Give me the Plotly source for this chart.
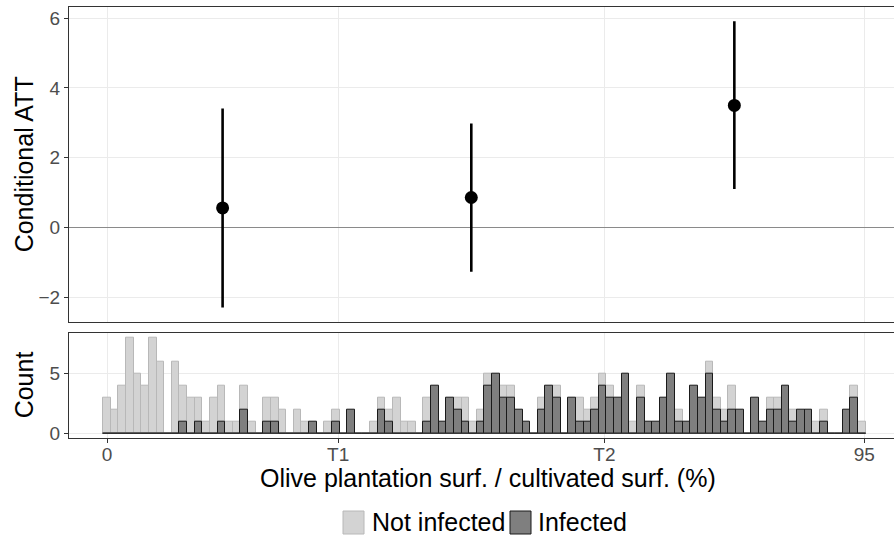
import plotly.graph_objects as go

# ---------------- data ----------------
# Top panel: conditional ATT per olive-share group (group mid-points on x)
group_x = [14.5, 45.7, 78.7]
att_est = [0.56, 0.86, 3.50]
att_low = [-2.29, -1.27, 1.10]
att_high = [3.41, 2.98, 5.91]

# Bottom panel: histogram (100 bins) of olive share, by infection status
bin_start = 0.0          # centre of first bin
bin_width = 94.7 / 99    # width of each bin
not_infected = [3, 2, 4, 8, 5, 4, 8, 6, 0, 6,
                4, 3, 3, 1, 3, 4, 1, 1, 4, 1,
                0, 3, 3, 2, 0, 2, 1, 0, 0, 1,
                2, 0, 0, 0, 0, 1, 3, 2, 3, 1,
                1, 0, 3, 0, 0, 0, 3, 3, 1, 2,
                5, 0, 4, 4, 0, 0, 0, 3, 0, 4,
                0, 0, 3, 2, 3, 5, 4, 0, 0, 1,
                4, 0, 0, 0, 0, 2, 0, 0, 0, 6,
                3, 2, 4, 0, 0, 0, 0, 3, 3, 0,
                2, 0, 0, 1, 2, 0, 0, 0, 4, 1]
infected = [0, 0, 0, 0, 0, 0, 0, 0, 0, 0,
            1, 0, 1, 0, 0, 1, 0, 0, 2, 0,
            0, 1, 1, 0, 0, 0, 0, 1, 0, 0,
            1, 0, 2, 0, 0, 0, 2, 1, 0, 0,
            0, 0, 1, 4, 1, 3, 2, 1, 0, 1,
            4, 5, 3, 3, 2, 1, 0, 2, 4, 3,
            0, 3, 1, 1, 2, 4, 3, 3, 5, 0,
            3, 1, 1, 3, 5, 1, 1, 4, 3, 5,
            2, 1, 2, 2, 0, 3, 1, 2, 2, 4,
            1, 2, 2, 0, 1, 0, 0, 2, 3, 0]

tick_vals = [0, 29.0, 62.4, 95]
tick_text = ["0", "T1", "T2", "95"]

# ---------------- figure ----------------
FONT = "Liberation Sans, Arial, sans-serif"
bin_centres = [bin_start + i * bin_width for i in range(len(infected))]

fig = go.Figure()

# top panel
fig.add_trace(go.Scatter(
    x=group_x, y=att_est, mode="markers",
    marker=dict(color="black", size=13),
    error_y=dict(type="data", symmetric=False,
                 array=[h - e for h, e in zip(att_high, att_est)],
                 arrayminus=[e - l for e, l in zip(att_est, att_low)],
                 width=0, thickness=2.6, color="black"),
    xaxis="x", yaxis="y", showlegend=False, hoverinfo="skip"))

# bottom panel histogram
fig.add_trace(go.Bar(
    x=bin_centres, y=not_infected, width=bin_width,
    marker=dict(color="#d3d3d3", line=dict(color="#b8b8b8", width=1)),
    xaxis="x2", yaxis="y2", showlegend=False, name="Not infected"))
fig.add_trace(go.Bar(
    x=bin_centres, y=infected, width=bin_width,
    marker=dict(color="#7f7f7f", line=dict(color="#1a1a1a", width=1)),
    xaxis="x2", yaxis="y2", showlegend=False, name="Infected"))
# outline of empty bins along zero
fig.add_trace(go.Scatter(
    x=[bin_centres[0] - bin_width / 2, bin_centres[-1] + bin_width / 2], y=[0, 0],
    mode="lines", line=dict(color="#333333", width=1),
    xaxis="x2", yaxis="y2", showlegend=False, hoverinfo="skip"))

L, R, T, B = 69, 0, 7, 101
W, H = 894, 539
pw, ph = W - L - R, H - T - B
def px(x):
    return (x - L) / pw
def py(y):
    return (H - B - y) / ph

TICK_FONT = dict(size=19, color="#4d4d4d", family=FONT)
xr = [-4.77, 98.73]
common_x = dict(range=xr, tickvals=tick_vals, showgrid=True, gridcolor="#ebebeb",
                gridwidth=1, zeroline=False, showline=True, mirror=True,
                linecolor="#333333", linewidth=1)

fig.update_layout(
    width=W, height=H, margin=dict(l=L, r=R, t=T, b=B),
    paper_bgcolor="white", plot_bgcolor="white",
    barmode="overlay", bargap=0,
    font=dict(family=FONT, color="#4d4d4d"),
    xaxis=dict(common_x, domain=[0, 1], anchor="y", showticklabels=False, ticks=""),
    yaxis=dict(domain=[py(321.7), 1], range=[-2.70, 6.32], tickvals=[-2, 0, 2, 4, 6],
               showgrid=True, gridcolor="#ebebeb", zeroline=True, zerolinecolor="#8a8a8a",
               zerolinewidth=1, showline=True, linecolor="#333333", linewidth=1,
               ticks="outside", ticklen=4, tickcolor="#333333",
               tickfont=TICK_FONT, anchor="x"),
    xaxis2=dict(common_x, domain=[0, 1], anchor="y2", matches="x", ticktext=tick_text,
                ticks="outside", ticklen=4, tickcolor="#333333", ticklabelstandoff=-5,
                tickfont=TICK_FONT),
    yaxis2=dict(domain=[0, py(332.7)], range=[-0.4, 8.4], tickvals=[0, 5],
                showgrid=True, gridcolor="#ebebeb", zeroline=False,
                showline=True, linecolor="#333333", linewidth=1,
                ticks="outside", ticklen=4, tickcolor="#333333",
                tickfont=TICK_FONT, anchor="x2"),
)

title_font = dict(family=FONT, size=25, color="black")
annotations = [
    dict(text="Conditional ATT", x=px(24), y=py((7 + 321.7) / 2), textangle=-90),
    dict(text="Count", x=px(24), y=py((332.7 + 438) / 2), textangle=-90),
    dict(text="Olive plantation surf. / cultivated surf. (%)", x=px(487.5), y=py(478)),
    dict(text="Not infected", x=px(370), y=py(522), xanchor="left"),
    dict(text="Infected", x=px(536), y=py(522), xanchor="left"),
]
for a in annotations:
    a.setdefault("xanchor", "center")
    fig.add_annotation(xref="paper", yref="paper", yanchor="middle", showarrow=False,
                       font=title_font, **a)

# legend keys
fig.add_shape(type="rect", xref="paper", yref="paper", x0=px(343), x1=px(364),
              y0=py(534), y1=py(511), fillcolor="#d3d3d3", line=dict(color="#b8b8b8", width=1))
fig.add_shape(type="rect", xref="paper", yref="paper", x0=px(510), x1=px(531),
              y0=py(534), y1=py(511), fillcolor="#7f7f7f", line=dict(color="#1a1a1a", width=1))

fig.write_html("out.html")
